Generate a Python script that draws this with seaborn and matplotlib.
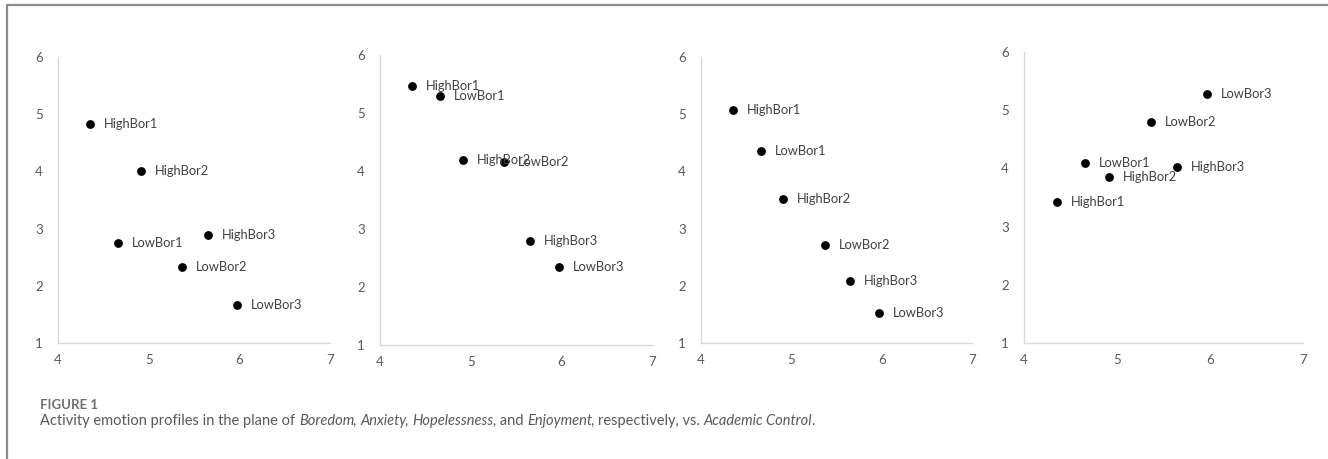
import matplotlib
matplotlib.use("Agg")
import matplotlib.pyplot as plt
from matplotlib.lines import Line2D
import pandas as pd
import seaborn as sns

# Profiles and their Academic Control (x), shared by all four panels
profiles = ["HighBor1", "LowBor1", "HighBor2", "LowBor2", "HighBor3", "LowBor3"]
academic_control = [4.35, 4.66, 4.91, 5.37, 5.65, 5.97]

# Emotion scores (y) per panel
boredom = [4.82, 2.74, 4.01, 2.32, 2.88, 1.66]
anxiety = [5.47, 5.29, 4.19, 4.15, 2.79, 2.35]
hopelessness = [5.08, 4.35, 3.52, 2.72, 2.09, 1.52]
enjoyment = [3.42, 4.09, 3.85, 4.80, 4.03, 5.28]

panels = [boredom, anxiety, hopelessness, enjoyment]
x_ticks = [4, 5, 6, 7]
y_ticks = [1, 2, 3, 4, 5, 6]

sns.set_style("white")
plt.rcParams["font.family"] = ["Lato", "DejaVu Sans"]

W, H = 1328, 459
fig = plt.figure(figsize=(W / 100, H / 100), dpi=100)

# axes boxes in pixels: left, right, top, bottom
boxes = [(58, 330, 57, 343), (380, 652, 55, 345), (701, 972, 57, 343), (1024, 1303, 52, 343)]

for vals, (l, r, t, b) in zip(panels, boxes):
    ax = fig.add_axes([l / W, 1 - b / H, (r - l) / W, (b - t) / H])
    df = pd.DataFrame({"x": academic_control, "y": vals, "name": profiles})
    sns.scatterplot(data=df, x="x", y="y", ax=ax, color="black", s=40,
                    edgecolor="black", linewidth=0, zorder=3)
    for _, row in df.iterrows():
        ax.annotate(row["name"], (row["x"], row["y"]), xytext=(10, 0),
                    textcoords="offset points", va="center", ha="left",
                    fontsize=9.3, color="#404040")
    ax.set_xlim(4, 7)
    ax.set_ylim(1, 6)
    ax.set_xticks(x_ticks)
    ax.set_yticks(y_ticks)
    ax.set_xlabel("")
    ax.set_ylabel("")
    ax.tick_params(axis="both", length=0, labelsize=9.5, labelcolor="#595959")
    ax.tick_params(axis="x", pad=8)
    ax.tick_params(axis="y", pad=11)
    for side in ["top", "right"]:
        ax.spines[side].set_visible(False)
    for side in ["left", "bottom"]:
        ax.spines[side].set_color("#d9d9d9")
        ax.spines[side].set_linewidth(1.0)
    ax.patch.set_alpha(0)

# figure frame (left and top edges)
fig.add_artist(Line2D([7 / W, 7 / W], [0, 1 - 5 / H], color="#8c8c8c", lw=1.6))
fig.add_artist(Line2D([7 / W, 1], [1 - 5 / H, 1 - 5 / H], color="#8c8c8c", lw=1.6))

# caption
fig.text(40 / W, 1 - 405 / H, "FIGURE 1", fontsize=9.5, color="#6e6e6e",
         fontweight="bold", va="center", ha="left")

parts = [("Activity emotion profiles in the plane of ", "normal"),
         ("Boredom", "italic"), (", ", "normal"), ("Anxiety", "italic"),
         (", ", "normal"), ("Hopelessness,", "italic"), (" and ", "normal"),
         ("Enjoyment", "italic"), (", respectively, vs. ", "normal"),
         ("Academic Control", "italic"), (".", "normal")]
fig.canvas.draw()
renderer = fig.canvas.get_renderer()
xpos = 40
for txt, style in parts:
    t = fig.text(xpos / W, 1 - 421 / H, txt, fontsize=10.5, color="#595959",
                 style=style, va="center", ha="left")
    bb = t.get_window_extent(renderer=renderer)
    xpos += bb.width - (1 if style == "italic" else 0)

fig.savefig("out.png", dpi=100)
